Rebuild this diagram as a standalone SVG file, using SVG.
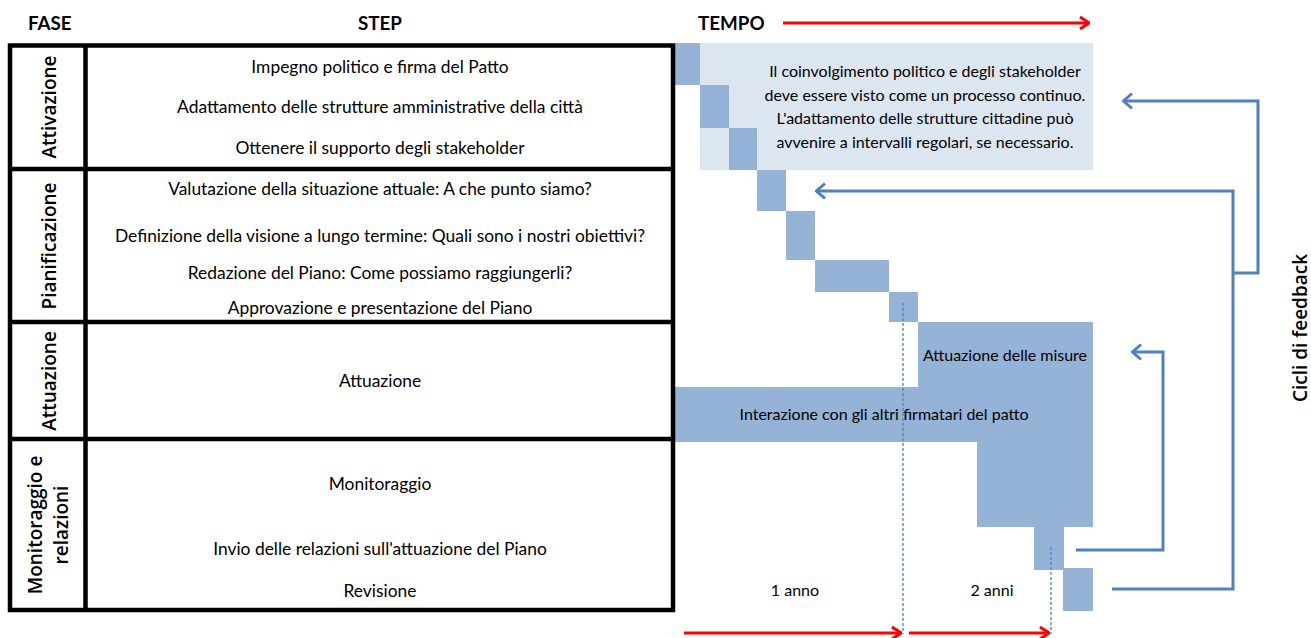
<svg xmlns="http://www.w3.org/2000/svg" width="1311" height="638" viewBox="0 0 1311 638">
<defs>
<style>
.hdr{font-family:Lato,"Liberation Sans",sans-serif;font-weight:bold;font-size:18.8px;fill:#000}
.step{font-family:Lato,"Liberation Sans",sans-serif;font-size:17.4px;fill:#000;text-anchor:middle}
.gt{font-family:Lato,"Liberation Sans",sans-serif;font-size:16px;fill:#000;text-anchor:middle}
.fase{font-family:"Open Sans","Liberation Sans",sans-serif;font-weight:600;font-size:19px;fill:#000;text-anchor:middle}
.tbl{fill:none;stroke:#000;stroke-width:4.5}
.dk{fill:#95b3d7}
.lt{fill:#dce6f1}
.red{fill:none;stroke:#ff0000;stroke-width:3}
.blue{fill:none;stroke:#4f81bd;stroke-width:3}
.dot{fill:none;stroke:#4f81bd;stroke-width:1.3;stroke-dasharray:3 2}
</style>
<marker id="rh" viewBox="0 0 12 14" refX="11" refY="7" markerWidth="12" markerHeight="14" markerUnits="userSpaceOnUse" orient="auto">
<path d="M2,1 L11,7 L2,13" fill="none" stroke="#ff0000" stroke-width="3"/>
</marker>
<marker id="bh" viewBox="0 0 12 18" refX="11" refY="9" markerWidth="12" markerHeight="18" markerUnits="userSpaceOnUse" orient="auto">
<path d="M2,1.5 L10.5,9 L2,16.5" fill="none" stroke="#4f81bd" stroke-width="3"/>
</marker>
</defs>

<g id="headers">
<text class="hdr" x="28" y="30">FASE</text>
<text class="hdr" x="380" y="30" text-anchor="middle">STEP</text>
<text class="hdr" x="698" y="30">TEMPO</text>
</g>

<g id="gantt">
<rect class="lt" x="700" y="43" width="393" height="127"/>
<rect class="dk" x="675" y="43" width="25" height="42"/>
<rect class="dk" x="700" y="85" width="29" height="43"/>
<rect class="dk" x="729" y="128" width="28" height="42"/>
<rect class="dk" x="757" y="170" width="29" height="41"/>
<rect class="dk" x="786" y="211" width="29" height="49"/>
<rect class="dk" x="815" y="260" width="74" height="32"/>
<rect class="dk" x="889" y="292" width="29" height="30"/>
<path class="dk" d="M918,322 H1093 V527 H977 V442 H675 V387 H918 Z"/>
<rect class="dk" x="1034" y="527" width="30" height="43"/>
<rect class="dk" x="1063" y="568" width="30" height="43"/>
<text class="gt" x="925" y="77">Il coinvolgimento politico e degli stakeholder</text>
<text class="gt" x="925" y="101">deve essere visto come un processo continuo.</text>
<text class="gt" x="925" y="124">L'adattamento delle strutture cittadine può</text>
<text class="gt" x="925" y="148">avvenire a intervalli regolari, se necessario.</text>
<text class="gt" x="1005" y="361">Attuazione delle misure</text>
<text class="gt" x="884" y="420">Interazione con gli altri firmatari del patto</text>
<text class="gt" x="795" y="596">1 anno</text>
<text class="gt" x="992" y="596">2 anni</text>
</g>

<g id="table">
<rect class="tbl" x="10" y="45.5" width="663" height="564.5"/>
<line class="tbl" x1="85.5" y1="45.5" x2="85.5" y2="610"/>
<line class="tbl" x1="10" y1="169" x2="673" y2="169"/>
<line class="tbl" x1="10" y1="322" x2="673" y2="322"/>
<line class="tbl" x1="10" y1="439" x2="673" y2="439"/>
</g>

<g id="fase-attivazione">
<text class="fase" transform="translate(55.5,107) rotate(-90)">Attivazione</text>
<text class="step" x="380" y="73">Impegno politico e firma del Patto</text>
<text class="step" x="380" y="113">Adattamento delle strutture amministrative della città</text>
<text class="step" x="380" y="154">Ottenere il supporto degli stakeholder</text>
</g>
<g id="fase-pianificazione">
<text class="fase" transform="translate(55.5,246) rotate(-90)">Pianificazione</text>
<text class="step" x="380" y="195">Valutazione della situazione attuale: A che punto siamo?</text>
<text class="step" x="380" y="242">Definizione della visione a lungo termine: Quali sono i nostri obiettivi?</text>
<text class="step" x="380" y="279">Redazione del Piano: Come possiamo raggiungerli?</text>
<text class="step" x="380" y="314">Approvazione e presentazione del Piano</text>
</g>
<g id="fase-attuazione">
<text class="fase" transform="translate(55.5,381) rotate(-90)">Attuazione</text>
<text class="step" x="380" y="387">Attuazione</text>
</g>
<g id="fase-monitoraggio">
<text class="fase" transform="translate(41.5,525) rotate(-90)">Monitoraggio e</text>
<text class="fase" transform="translate(67.5,525) rotate(-90)">relazioni</text>
<text class="step" x="380" y="490">Monitoraggio</text>
<text class="step" x="380" y="555">Invio delle relazioni sull'attuazione del Piano</text>
<text class="step" x="380" y="597">Revisione</text>
</g>

<g id="feedback-label">
<text class="fase" transform="translate(1306.5,328) rotate(-90)">Cicli di feedback</text>
</g>

<g id="connectors">
<line class="red" x1="783" y1="23" x2="1089" y2="23" marker-end="url(#rh)"/>
<line class="red" x1="684" y1="633" x2="901" y2="633" marker-end="url(#rh)"/>
<line class="red" x1="909" y1="633" x2="1049" y2="633" marker-end="url(#rh)"/>
<line class="dot" x1="903" y1="303" x2="903" y2="634"/>
<line class="dot" x1="1051" y1="547" x2="1051" y2="634"/>
<path class="blue" d="M1112,589 H1233 V191 H816" marker-end="url(#bh)"/>
<path class="blue" d="M1233,273 H1258 V101 H1123" marker-end="url(#bh)"/>
<path class="blue" d="M1076,550 H1163 V352 H1132" marker-end="url(#bh)"/>
</g>
</svg>
